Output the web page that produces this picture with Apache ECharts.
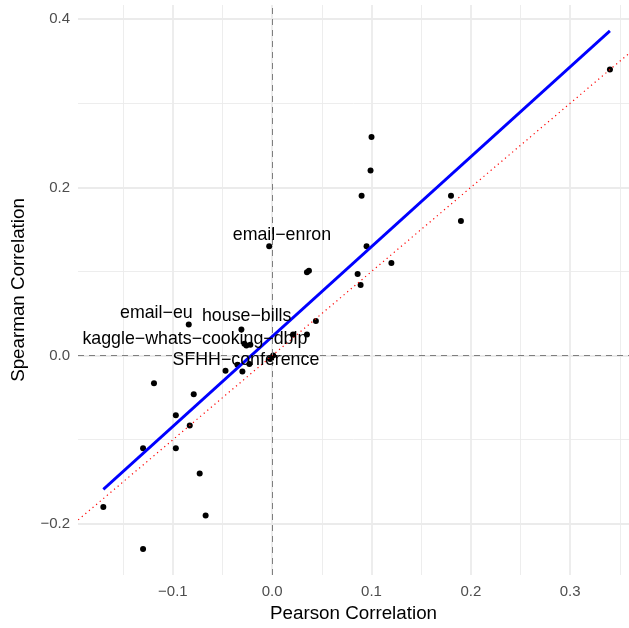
<!DOCTYPE html>
<html>
<head>
  <meta charset="utf-8">
  <title>Pearson vs Spearman Correlation</title>
  <script src="https://cdn.jsdelivr.net/npm/echarts@6/dist/echarts.min.js"></script>
  <style>
    html, body { margin: 0; padding: 0; background: #fff; }
    #main { width: 629px; height: 628px; }
  </style>
</head>
<body>
<div id="main"></div>
<script>
// one point per dataset: x = Pearson, y = Spearman
const pearson = [
  0.340, 0.100, 0.099, 0.090, 0.180, 0.190, -0.003, 0.095, 0.120, 0.035,
  0.037, 0.086, 0.089, 0.044, -0.084, -0.031, 0.021, 0.035, -0.028, -0.026,
  -0.022, 0.001, -0.002, -0.023, -0.035, -0.047, -0.030, -0.119, -0.079, -0.097,
  -0.083, -0.130, -0.097, -0.073, -0.170, -0.067, -0.130
];
const spearman = [
  0.340, 0.260, 0.220, 0.190, 0.190, 0.160, 0.130, 0.130, 0.110, 0.099,
  0.101, 0.097, 0.084, 0.041, 0.037, 0.031, 0.025, 0.025, 0.014, 0.012,
  0.013, 0.000, -0.004, -0.010, -0.011, -0.018, -0.019, -0.033, -0.046, -0.071,
  -0.083, -0.110, -0.110, -0.140, -0.180, -0.190, -0.230
];

// labelled datasets (index into the arrays above)
const labelNames = ['email−enron', 'email−eu', 'house−bills', 'kaggle−whats−cooking−dblp', 'SFHH−conference'];
const labelIndex = [6, 14, 15, 18, 22];

// linear fit (blue) and identity line (red dotted)
const fitX = [-0.170, 0.340];
const fitY = [-0.159, 0.386];
const refX = [-0.3, 0.4];
const refY = [-0.3, 0.4];

// ticks
const xTicks = [-0.1, 0, 0.1, 0.2, 0.3];
const xMinorTicks = [-0.15, -0.05, 0.05, 0.15, 0.25, 0.35];
const yTicks = [-0.2, 0, 0.2, 0.4];
const yMinorTicks = [-0.1, 0.1, 0.3];

// label nudges in pixels (repelled text)
const labelOffset = {
  'email−enron': [12.7, -11.5],
  'email−eu': [-32.4, -11.4],
  'house−bills': [5.3, -13.5],
  'kaggle−whats−cooking−dblp': [-49.5, -5],
  'SFHH−conference': [-24.3, 1.6]
};

const FONT = 'Liberation Sans';
const fmt = v => (v < 0 ? '\u2212' : '') + Math.abs(v).toFixed(1);
const X_MIN = -0.1955, X_MAX = 0.3592;
const Y_MIN = -0.2608, Y_MAX = 0.4168;

const majorGrid = { show: true, lineStyle: { color: '#EBEBEB', width: 1.8 } };
const minorGrid = { show: true, lineStyle: { color: '#EBEBEB', width: 0.9 } };

var option = {
  animation: false,
  backgroundColor: '#fff',
  grid: { left: 78, right: 0, top: 5, bottom: 50.6 },
  xAxis: [{
    type: 'value', min: X_MIN, max: X_MAX,
    name: 'Pearson Correlation', nameLocation: 'middle', nameGap: 29,
    nameTextStyle: { color: '#000', fontSize: 18.8, fontFamily: FONT },
    axisLine: { show: false },
    axisTick: { show: false, customValues: xTicks },
    axisLabel: { customValues: xTicks, formatter: fmt, color: '#4D4D4D', fontSize: 15, fontFamily: FONT, margin: 9 },
    splitLine: majorGrid
  }, {
    type: 'value', min: X_MIN, max: X_MAX, position: 'top',
    axisLine: { show: false },
    axisTick: { show: false, customValues: xMinorTicks },
    axisLabel: { show: false, customValues: xMinorTicks },
    splitLine: minorGrid
  }],
  yAxis: [{
    type: 'value', min: Y_MIN, max: Y_MAX,
    name: 'Spearman Correlation', nameLocation: 'middle', nameGap: 50, nameRotate: 90,
    nameTextStyle: { color: '#000', fontSize: 18.8, fontFamily: FONT },
    axisLine: { show: false },
    axisTick: { show: false, customValues: yTicks },
    axisLabel: { customValues: yTicks, formatter: fmt, color: '#4D4D4D', fontSize: 15, fontFamily: FONT, margin: 8 },
    splitLine: majorGrid
  }, {
    type: 'value', min: Y_MIN, max: Y_MAX, position: 'right',
    axisLine: { show: false },
    axisTick: { show: false, customValues: yMinorTicks },
    axisLabel: { show: false, customValues: yMinorTicks },
    splitLine: minorGrid
  }],
  series: [
    {
      name: 'points', type: 'scatter', z: 2,
      symbolSize: 6,
      itemStyle: { color: '#000', opacity: 1 },
      data: pearson.map((x, i) => [x, spearman[i]])
    },
    {
      name: 'identity', type: 'line', z: 3, clip: true,
      symbol: 'none', silent: true,
      lineStyle: { color: '#FF0000', width: 1.2, type: [1.2, 3.5] },
      data: refX.map((x, i) => [x, refY[i]]),
      markLine: {
        silent: true, symbol: 'none', label: { show: false },
        lineStyle: { color: '#7F7F7F', width: 1, type: [6, 5] },
        data: [{ xAxis: 0 }, { yAxis: 0 }]
      }
    },
    {
      name: 'fit', type: 'line', z: 4,
      symbol: 'none', silent: true,
      lineStyle: { color: '#0000FF', width: 2.8 },
      data: fitX.map((x, i) => [x, fitY[i]])
    },
    {
      name: 'labels', type: 'scatter', z: 5,
      symbolSize: 0, silent: true,
      itemStyle: { opacity: 1 },
      label: {
        show: true, position: 'inside', formatter: p => p.name,
        color: '#000', fontSize: 17.8, fontFamily: FONT
      },
      data: labelIndex.map((idx, k) => ({
        name: labelNames[k],
        value: [pearson[idx], spearman[idx]],
        label: { offset: labelOffset[labelNames[k]] }
      }))
    }
  ]
};

echarts.init(document.getElementById('main')).setOption(option);
</script>
</body>
</html>
